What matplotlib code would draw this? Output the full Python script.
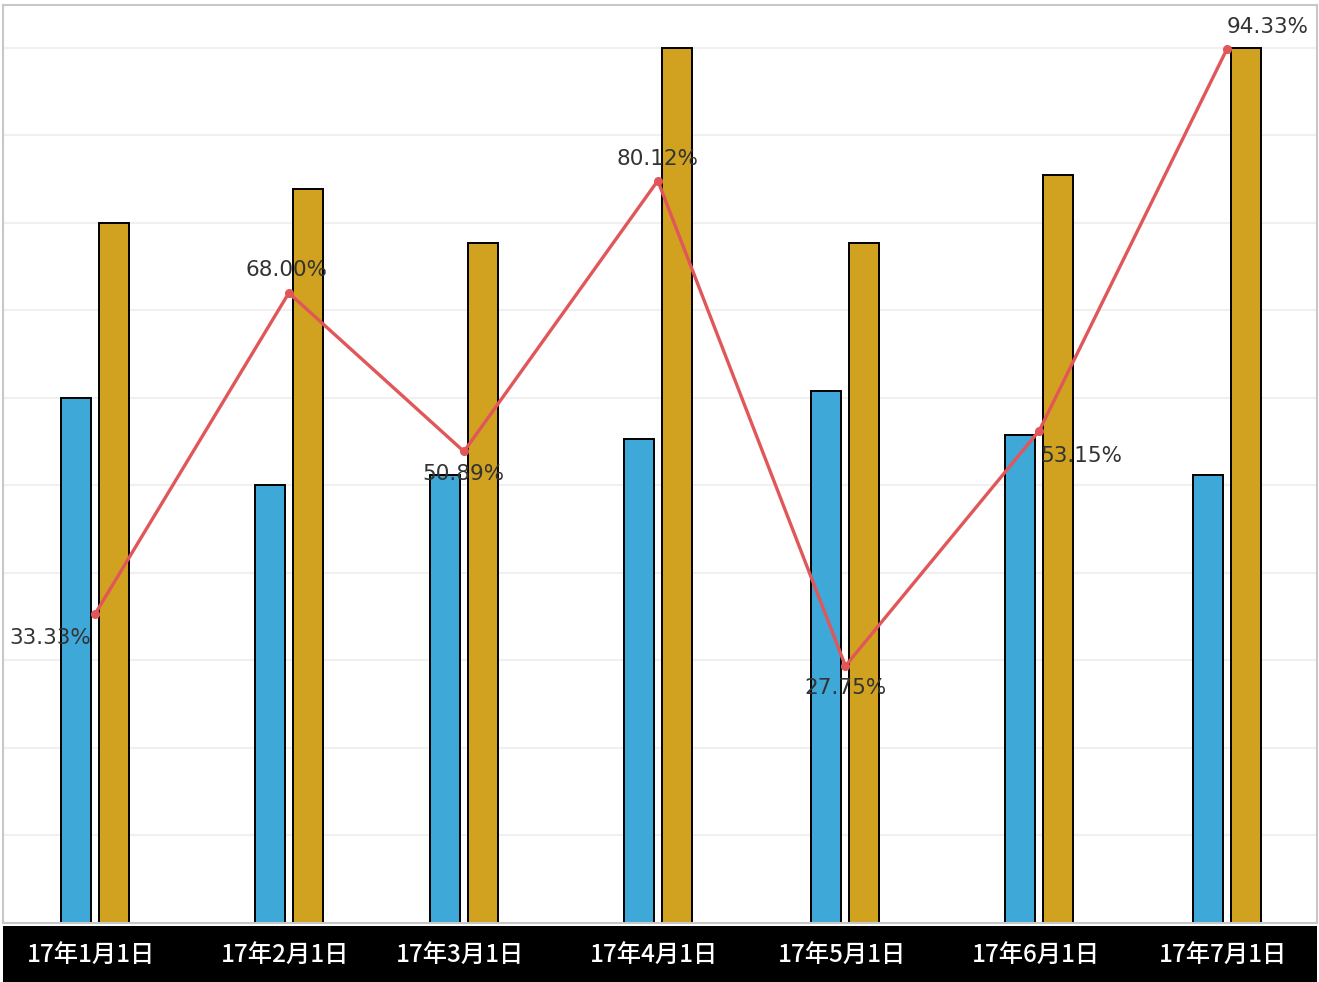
import datetime as dt
import matplotlib.pyplot as plt
import matplotlib.dates as mdates
from matplotlib.patches import Rectangle

plt.rcParams['font.family'] = ['Noto Sans CJK JP', 'DejaVu Sans']

# data
months = [dt.datetime(2017, m, 1) for m in range(1, 8)]
month_labels = ["17年1月1日", "17年2月1日", "17年3月1日", "17年4月1日",
                "17年5月1日", "17年6月1日", "17年7月1日"]
blue_vals = [6.0, 5.0, 5.12, 5.53, 6.08, 5.58, 5.12]
gold_vals = [8.0, 8.39, 7.77, 10.0, 7.77, 8.55, 10.0]
rate_vals = [33.33, 68.00, 50.89, 80.12, 27.75, 53.15, 94.33]

# label offsets (pixels) so the percent labels sit like the original
label_off = [(-45, -24), (-2, 23), (-1, -23), (0, 22), (0, -22), (42, -25), (41, 22)]

blue = '#3ea8d8'
gold = '#d1a220'
red = '#e15759'

W, H = 1319, 982
fig = plt.figure(figsize=(W / 100, H / 100), dpi=100)
ax = fig.add_axes([3 / W, (H - 923) / H, 1314 / W, 918 / H])

x = mdates.date2num(months)
bw = 4.8          # bar width in days
off = 3.04        # half distance between the two bars
ax.bar(x - off, blue_vals, width=bw, color=blue, edgecolor='black', linewidth=1.4, zorder=2)
ax.bar(x + off, gold_vals, width=bw, color=gold, edgecolor='black', linewidth=1.4, zorder=2)

ax.set_xlim(x[0] - 14.7, x[-1] + 14.4)
ax.set_ylim(0, 10.49)
ax.set_yticks(range(0, 11))
ax.grid(axis='y', color='#f0f0f0', linewidth=1.5, zorder=0)
ax.set_axisbelow(True)
ax.tick_params(left=False, bottom=False, labelleft=False, labelbottom=False, length=0)
for s in ax.spines.values():
    s.set_color('#c8c8c8')
    s.set_linewidth(1.5)

ax2 = ax.twinx()
ax2.plot(x, rate_vals, color=red, linewidth=2.4, marker='o', markersize=5.5, zorder=5)
ax2.set_ylim(0, 99.08)
ax2.tick_params(left=False, right=False, labelright=False, length=0)
for s in ax2.spines.values():
    s.set_visible(False)
for xi, v, (dx, dy) in zip(x, rate_vals, label_off):
    ax2.annotate(f"{v:.2f}%", (xi, v), xytext=(dx, dy), textcoords='offset pixels',
                 ha='center', va='center', fontsize=15.5, color='#333333',
                 family=['DejaVu Sans'], zorder=6)

# black band with the month labels
band = fig.add_axes([3 / W, 0, 1314 / W, (H - 926) / H])
band.set_xlim(ax.get_xlim())
band.set_ylim(0, 1)
band.add_patch(Rectangle((band.get_xlim()[0], 0), band.get_xlim()[1] - band.get_xlim()[0], 1,
                         color='black'))
band.axis('off')
for xi, lab in zip(x, month_labels):
    band.text(xi - 0.6, 0.47, lab, ha='center', va='center', color='white',
              fontsize=17.5, fontweight='medium')

fig.savefig('out.png', dpi=100)
